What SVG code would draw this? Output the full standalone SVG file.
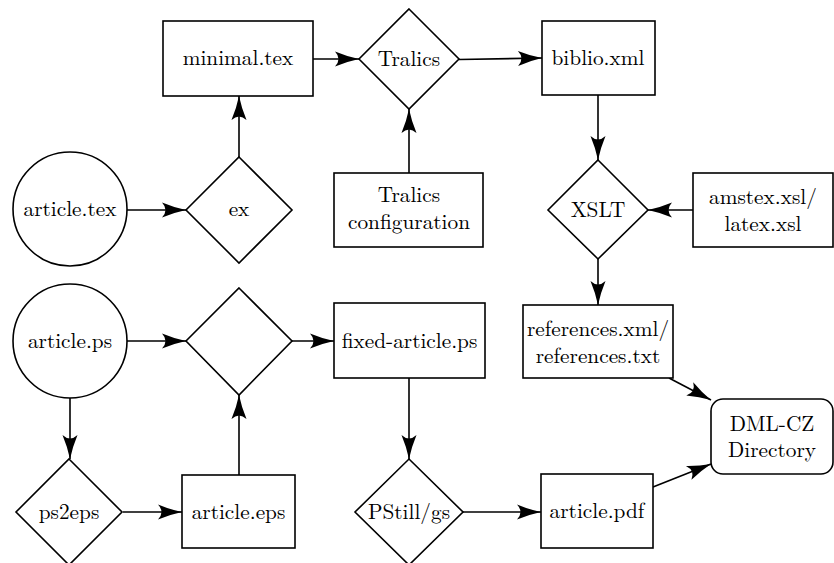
<svg xmlns="http://www.w3.org/2000/svg" width="834" height="563" viewBox="0 0 834 563">
<style>
  .n { fill: #fff; stroke: #000; stroke-width: 1.6; }
  text { font-family: "Latin Modern Roman", "Noto Serif CJK SC", serif; font-size: 21.3px; fill: #000; text-anchor: middle; }
  .c { fill: none; stroke: #000; stroke-width: 1.6; marker-end: url(#arr); }
</style>
<defs>
  <marker id="arr" markerUnits="userSpaceOnUse" markerWidth="28" markerHeight="18" refX="26" refY="9" orient="auto" viewBox="0 0 28 18">
    <path d="M26,9 Q14,6.5 2,1.5 Q9,9 2,16.5 Q14,11.5 26,9 Z" fill="#000"/>
  </marker>
</defs>
<rect width="834" height="563" fill="#fff"/>

<g id="connectors">
  <line class="c" x1="127" y1="210" x2="186" y2="210"/>
  <line class="c" x1="239" y1="157" x2="239" y2="96"/>
  <line class="c" x1="313" y1="59" x2="359" y2="59"/>
  <line class="c" x1="409" y1="173" x2="409" y2="109"/>
  <line class="c" x1="459" y1="59.5" x2="542" y2="58"/>
  <line class="c" x1="598" y1="95" x2="598" y2="160"/>
  <line class="c" x1="693" y1="210" x2="648" y2="210"/>
  <line class="c" x1="598" y1="259" x2="598" y2="305"/>
  <line class="c" x1="669" y1="378" x2="711" y2="400"/>
  <line class="c" x1="127" y1="341" x2="186" y2="341"/>
  <line class="c" x1="70" y1="398" x2="70" y2="459"/>
  <line class="c" x1="123" y1="512" x2="182" y2="512"/>
  <line class="c" x1="239" y1="475" x2="239" y2="395"/>
  <line class="c" x1="292" y1="341" x2="334" y2="341"/>
  <line class="c" x1="409" y1="378" x2="409" y2="459"/>
  <line class="c" x1="463" y1="512" x2="541" y2="512"/>
  <line class="c" x1="653" y1="487" x2="711" y2="464"/>
</g>

<g id="minimal-tex"><rect class="n" x="163" y="21" width="150" height="75"/><text x="238" y="65">minimal.tex</text></g>
<g id="tralics"><polygon class="n" points="409,9 459,59 409,109 359,59"/><text x="409" y="66">Tralics</text></g>
<g id="biblio-xml"><rect class="n" x="542" y="21" width="113" height="74"/><text x="598" y="65">biblio.xml</text></g>
<g id="article-tex"><circle class="n" cx="70" cy="209" r="57"/><text x="70" y="216">article.tex</text></g>
<g id="ex"><polygon class="n" points="239,157 292,210 239,263 186,210"/><text x="239" y="216">ex</text></g>
<g id="tralics-config"><rect class="n" x="334" y="173" width="149" height="74"/><text x="409" y="201.5">Tralics</text><text x="409" y="228.5">configuration</text></g>
<g id="xslt"><polygon class="n" points="598,160 648,210 598,259 548,210"/><text x="598" y="217">XSLT</text></g>
<g id="amstex-xsl"><rect class="n" x="693" y="173" width="140" height="74"/><text x="763" y="203.5">amstex.xsl/</text><text x="763" y="230.5">latex.xsl</text></g>
<g id="article-ps"><circle class="n" cx="70" cy="341" r="57"/><text x="70" y="348">article.ps</text></g>
<g id="fix-step"><polygon class="n" points="239,288 292,341 239,395 186,341"/></g>
<g id="fixed-article-ps"><rect class="n" x="334" y="303" width="151" height="75"/><text x="409.5" y="348">fixed-article.ps</text></g>
<g id="references"><rect class="n" x="523" y="305" width="150" height="73"/><text x="598" y="335.5">references.xml/</text><text x="598" y="362.5">references.txt</text></g>
<g id="dml-cz"><rect class="n" x="711" y="399" width="122" height="75" rx="12"/><text x="772" y="431">DML-CZ</text><text x="772" y="457">Directory</text></g>
<g id="ps2eps"><polygon class="n" points="69,459 122,512 69,565 16,512"/><text x="69" y="519">ps2eps</text></g>
<g id="article-eps"><rect class="n" x="182" y="475" width="113" height="73"/><text x="238.5" y="519">article.eps</text></g>
<g id="pstill"><polygon class="n" points="409,459 463,512 409,565 355,512"/><text x="409" y="519">PStill/gs</text></g>
<g id="article-pdf"><rect class="n" x="541" y="474" width="112" height="74"/><text x="597" y="518">article.pdf</text></g>
</svg>
